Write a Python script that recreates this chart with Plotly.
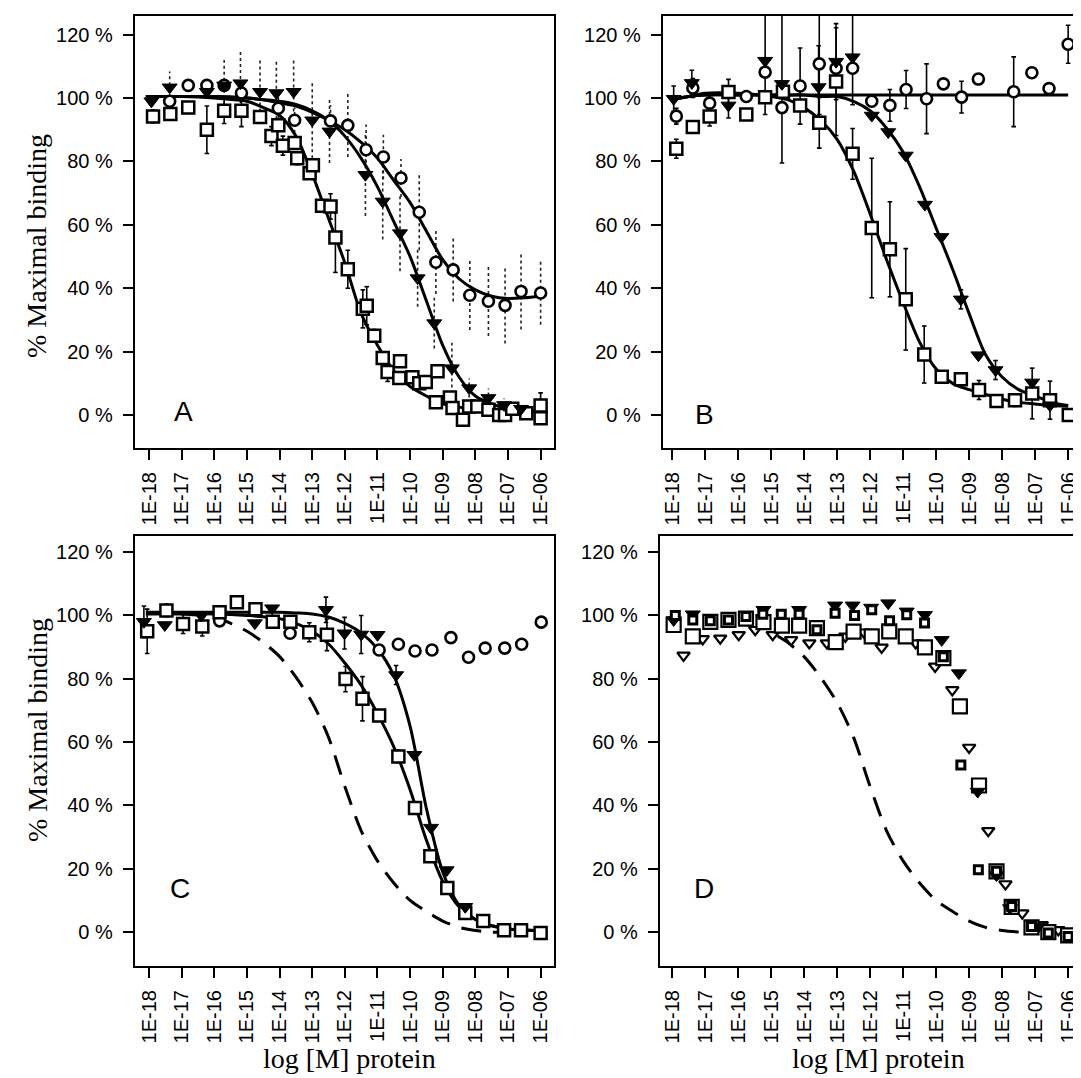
import plotly.graph_objects as go

# ---------------- tick labels ----------------
X_TICK_VALS = [-18, -17, -16, -15, -14, -13, -12, -11, -10, -9, -8, -7, -6]
X_TICK_LABELS = ["1E-18", "1E-17", "1E-16", "1E-15", "1E-14", "1E-13", "1E-12",
                 "1E-11", "1E-10", "1E-09", "1E-08", "1E-07", "1E-06"]
Y_TICK_VALS = [0, 20, 40, 60, 80, 100, 120]
Y_TICK_LABELS = ["0 %", "20 %", "40 %", "60 %", "80 %", "100 %", "120 %"]
PANEL_LABELS = ["A", "B", "C", "D"]

# ---------------- Panel A ----------------
A_sq_x = [-17.88, -17.35, -16.8, -16.23, -15.7, -15.17, -14.6, -14.25, -14.04, -13.9, -13.54, -13.46,
          -13.08, -12.98, -12.7, -12.44, -12.29, -11.91, -11.45, -11.33, -11.1, -10.84, -10.69, -10.33,
          -10.31, -9.93, -9.72, -9.52, -9.21, -9.16, -8.78, -8.7, -8.38, -8.19, -7.94, -7.6, -7.27,
          -7.09, -6.87, -6.44, -6.0, -6.0]
A_sq_y = [94.2, 95, 97, 90, 96, 96, 94, 88, 91.4, 85, 85.8, 81, 76.3, 78.8, 66, 65.8, 56, 46, 33.5,
          34.5, 25, 18, 13.6, 11.7, 17, 11.9, 10, 10.4, 4, 13.8, 5.5, 2.2, -1.5, 2.7, 2.7, 1.7, 0, 0,
          2, 0.6, 3, -1]
A_sq_err = [2, 0, 0, 7.5, 4, 5, 0, 3, 0, 3, 0, 2, 0, 0, 2, 4, 11, 6, 6, 6, 2, 0, 3, 0, 0, 0, 0, 0,
            0, 0, 0, 0, 0, 0, 0, 0, 0, 0, 0, 0, 4, 0]

A_tri_x = [-17.93, -17.37, -16.23, -15.7, -15.2, -14.6, -14.1, -13.57, -13.0, -12.47, -11.37, -10.84,
           -10.31, -9.77, -9.26, -8.72, -8.19, -7.6, -7.12, -6.6]
A_tri_y = [99, 103.4, 102, 104, 104.7, 102, 101.6, 102, 93, 89.5, 75.8, 67.4, 57.4, 43.2, 29, 14.8,
           8.5, 5.4, 3.2, 2]
A_tri_err = [0, 5, 0, 8, 10, 10, 10, 10, 12, 10, 13, 12, 12, 9, 8, 8, 3, 3, 2, 0]

A_ci_x = [-17.37, -16.8, -16.23, -15.7, -15.17, -14.04, -13.54, -12.44, -11.91, -11.35, -10.82,
          -10.28, -9.72, -9.21, -8.68, -8.17, -7.6, -7.09, -6.6, -6.0]
A_ci_y = [99, 104, 104, 104, 101.6, 96.8, 93, 92.8, 91.4, 83.7, 81.4, 74.8, 64, 48.2, 45.8, 37.8,
          35.9, 34.6, 39, 38.5]
A_ci_err = [0, 0, 0, 0, 0, 5, 4, 5, 10, 8, 7, 6, 12, 10, 10, 11, 11, 12, 12, 10]

A_fit_x = [-18.1, -17, -16, -15, -14.5, -14, -13.5, -13, -12.5, -12, -11.5, -11, -10.5, -10, -9.5,
           -9, -8.5, -8, -7.5, -7, -6.5, -6]
A_fit_sq = [100.5, 100.5, 100, 99, 97, 94.5, 88, 76, 62, 48, 32, 22, 14, 9, 6, 3.5, 2.5, 1.5, 1.2,
            1, 1, 1]
A_fit_tri = [100.5, 100.5, 100.5, 100, 99.5, 99, 98, 96, 93, 88, 81, 72, 61, 50, 36, 22, 12, 6,
             3.5, 2, 1.5, 1]
A_fit_ci = [100.5, 100.5, 100.5, 100, 99.5, 98.5, 97.5, 95.5, 93, 90, 86, 81, 74, 67, 58, 49, 43,
            39.5, 37.5, 36.8, 37, 37.5]

# ---------------- Panel B ----------------
B_ci_x = [-17.87, -17.37, -16.86, -15.75, -15.18, -14.67, -14.12, -13.54, -13.03, -12.53, -11.95,
          -11.4, -10.91, -10.29, -9.78, -9.23, -8.72, -7.65, -7.1, -6.58, -6.0]
B_ci_y = [94.3, 103.2, 98.4, 100.5, 108.2, 97, 103.8, 110.8, 109.4, 109.4, 99, 97.7, 102.7, 99.8,
          104.5, 100.3, 106, 102, 108, 103, 117]
B_ci_err = [2.5, 3, 3, 0, 0, 0, 12, 16, 0, 0, 0, 5, 6, 11, 0, 5, 0, 11, 0, 0, 6]

B_sq_x = [-17.87, -17.37, -16.86, -16.29, -15.75, -15.18, -14.64, -14.12, -13.54, -13.03, -12.53,
          -11.95, -11.4, -10.92, -10.36, -9.83, -9.25, -8.7, -8.17, -7.61, -7.09, -6.55, -5.98]
B_sq_y = [84, 90.9, 94.2, 101.9, 94.8, 100.3, 102, 97.7, 92.2, 105.2, 82.4, 59, 52.3, 36.5, 19.1,
          12.1, 11.3, 7.9, 4.4, 4.7, 6.8, 4.7, 0]
B_sq_err = [3, 0, 3, 4, 0, 0, 0, 0, 8, 17, 8, 22, 15, 16, 9, 0, 0, 3, 0, 2, 8, 6, 0]

B_tri_x = [-17.95, -17.4, -16.29, -15.18, -14.67, -13.56, -13.03, -12.53, -11.95, -11.45, -10.92,
           -10.34, -9.84, -9.25, -8.72, -8.2, -7.09, -6.55]
B_tri_y = [99.8, 104.8, 97.7, 111.8, 104.5, 103.5, 111.5, 112.9, 94.5, 89.3, 81.9, 66.4, 56.2,
           36.5, 18.9, 14.2, 10.3, 3.1]
B_tri_err = [4, 4, 4, 17, 25, 13, 12, 15, 0, 0, 0, 0, 0, 3, 0, 3, 0, 0]

B_fit_x = [-18, -17.5, -17, -16, -15, -14.5, -14, -13.5, -13, -12.5, -12, -11.5, -11, -10.5, -10,
           -9.5, -9, -8.5, -8, -7.5, -7, -6.5, -6]
B_fit_ci = [99.5, 100.5, 101, 101, 101, 101, 101, 101, 101, 101, 101, 101, 101, 101, 101, 101, 101,
            101, 101, 101, 101, 101, 101]
B_fit_sq = [99.5, 100.5, 101.5, 101.5, 100.5, 99.5, 97, 93, 87, 77, 63.5, 49, 35.5, 23, 14.5, 10, 8,
            6.5, 5, 4, 3.5, 3, 2.8]
B_fit_tri = [99.5, 100.5, 101, 101, 101, 101, 101, 100.5, 100.5, 99, 96, 90.5, 83, 72, 59, 46, 32,
             19, 12, 8, 6, 4, 3]

# ---------------- Panel C ----------------
C_sq_x = [-18.06, -17.47, -16.96, -16.37, -15.84, -15.31, -14.74, -14.21, -13.67, -13.09, -12.55,
          -11.98, -11.46, -10.95, -10.36, -9.85, -9.38, -8.86, -8.31, -7.76, -7.12, -6.6, -6.0]
C_sq_y = [95, 101.6, 97.3, 96.5, 101, 104.2, 102, 98, 98, 94.7, 93.9, 79.9, 73.7, 68.4, 55.5, 39.2,
          24, 13.9, 6, 3.5, 0.6, 0.6, -0.3]
C_sq_err = [7, 2, 3, 3, 0, 0, 0, 0, 0, 3, 5, 4, 7, 0, 2, 0, 0, 0, 0, 0, 0, 0, 0]

C_tri_x = [-18.16, -17.52, -16.4, -14.76, -14.23, -12.58, -12.01, -11.5, -11.0, -10.43, -9.87,
           -9.36, -8.88, -8.31]
C_tri_y = [98, 97, 100, 97.6, 102.3, 101.8, 94.4, 94, 93.9, 81.2, 56, 33, 19.6, 8]
C_tri_err = [5, 0, 0, 0, 0, 4, 5, 6, 0, 3, 0, 0, 0, 0]

C_ci_x = [-15.84, -13.68, -10.95, -10.36, -9.85, -9.33, -8.75, -8.21, -7.7, -7.1, -6.58, -5.98]
C_ci_y = [98.3, 94.4, 89.1, 90.9, 88.8, 89.1, 93, 86.8, 89.7, 89.7, 90.9, 97.9]

C_fit_x = [-18.1, -17, -16, -15, -14, -13.5, -13, -12.5, -12, -11.5, -11, -10.5, -10, -9.5, -9,
           -8.5, -8, -7.5, -7, -6]
C_fit_sq = [100.5, 100.5, 100.5, 100, 99, 97.5, 95, 91, 85, 78, 69, 58.5, 45, 29, 16, 8, 4, 2, 1,
            0.5]
C_fit_tri = [101, 101, 101, 101, 101, 100.8, 100.5, 99.5, 97.5, 94.5, 89.5, 81, 65, 39, 19, 8.5, 4,
             2, 1, 0.5]

C_dash_x = [-17.0, -16, -15.5, -15, -14.5, -14, -13.5, -13, -12.5, -12, -11.5, -11, -10.5, -10,
            -9.5, -9, -8.5, -8, -7.5, -7.2]
C_dash_y = [100.5, 99.5, 97.5, 95, 91.5, 87, 80.5, 72.5, 61.5, 46, 32, 22.5, 15.5, 10, 6.5, 3.5,
            1.5, 0.5, 0, 0]

# ---------------- Panel D ----------------
D_small_x = [-17.9, -17.37, -16.84, -16.29, -15.76, -15.25, -14.69, -14.15, -13.61, -13.06, -12.47,
             -11.95, -11.41, -10.89, -10.35, -9.78, -9.25, -8.72, -8.17, -7.71, -7.11, -6.6, -6.0]
D_small_y = [100, 98.6, 98.3, 98.6, 99.7, 100.4, 100.4, 100.4, 95.5, 100.7, 100, 101.8, 98.3, 100.2,
             97.6, 87, 52.8, 19.7, 19.2, 8.1, 1.8, -0.3, -1.4]

D_tri_x = [-17.95, -17.37, -15.23, -14.15, -13.06, -12.53, -11.97, -11.45, -10.89, -10.34, -9.83,
           -9.31, -8.74, -8.17, -7.76, -6.9]
D_tri_y = [98.6, 100.4, 101.8, 101.8, 103.2, 103.2, 102.5, 103.9, 101.3, 100.2, 92.3, 81.8, 44.4,
           18, 7.6, 1.8]

D_big_x = [-17.95, -17.37, -16.84, -16.29, -15.76, -15.23, -14.67, -14.15, -13.61, -13.04, -12.5,
           -11.95, -11.42, -10.92, -10.34, -9.78, -9.28, -8.7, -8.17, -7.71, -7.11, -6.6, -6.0]
D_big_y = [97, 93.4, 98, 98.6, 99, 97.9, 96.8, 96.8, 96, 91.6, 94.9, 93.4, 95, 93.4, 89.9, 86.5,
           71.3, 46.3, 19.2, 8, 1.5, 0, -1]

D_otri_x = [-17.65, -17.07, -16.54, -15.98, -15.48, -14.95, -14.39, -13.84, -13.31, -12.75, -12.19,
            -11.65, -10.62, -10.03, -9.51, -9.0, -8.42, -7.9, -7.39, -6.8, -6.3, -5.72]
D_otri_y = [87.4, 92.6, 92.8, 93.9, 95.5, 93.9, 92.3, 91.3, 91.3, 93.4, 94.7, 89.9, 91.3, 83.9,
            76.5, 58.3, 32, 15.2, 6, 2.3, 0.7, 0.2]

D_dash_x = [-14.8, -14.5, -14, -13.5, -13, -12.5, -12, -11.5, -11, -10.5, -10, -9.5, -9, -8.5, -8,
            -7.5]
D_dash_y = [93.5, 91.5, 87, 80.5, 72.5, 61.5, 46, 32, 22.5, 15.5, 10, 6.5, 3.5, 1.5, 0.5, 0]

# ---------------- figure ----------------
W, H = 1081, 1078
fig = go.Figure()

AX = {"A": ("x", "y"), "B": ("x2", "y2"), "C": ("x3", "y3"), "D": ("x4", "y4")}


def err_segments(xs, ys, es, cap):
    sx, sy = [], []
    for x, y, e in zip(xs, ys, es):
        if e <= 0:
            continue
        sx += [x, x, None]
        sy += [y - e, y + e, None]
        if cap > 0:
            for yy in (y - e, y + e):
                sx += [x - cap, x + cap, None]
                sy += [yy, yy, None]
    return sx, sy


def add_err(panel, xs, ys, es, dotted=False, cap=0.07):
    xa, ya = AX[panel]
    sx, sy = err_segments(xs, ys, es, 0 if dotted else cap)
    fig.add_trace(go.Scatter(x=sx, y=sy, mode="lines", xaxis=xa, yaxis=ya, hoverinfo="skip",
                             line=dict(color="#222" if dotted else "black",
                                       width=1.6 if dotted else 1.6,
                                       dash="dot" if dotted else "solid")))


def add_curve(panel, xs, ys, dashed=False):
    xa, ya = AX[panel]
    fig.add_trace(go.Scatter(x=xs, y=ys, mode="lines", xaxis=xa, yaxis=ya, hoverinfo="skip",
                             line=dict(color="black", width=3, shape="spline", smoothing=0.8,
                                       dash="20px,12px" if dashed else "solid")))


def add_pts(panel, xs, ys, kind):
    xa, ya = AX[panel]
    styles = {
        "sq": dict(symbol="square", size=12, color="white", line=dict(color="black", width=2.5)),
        "ci": dict(symbol="circle", size=11, color="white", line=dict(color="black", width=2.6)),
        "tri": dict(symbol="triangle-down", size=13, color="black", line=dict(color="black", width=1)),
        "small": dict(symbol="square", size=8, color="white", line=dict(color="black", width=3)),
        "big": dict(symbol="square", size=14, color="white", line=dict(color="black", width=2.2)),
        "otri": dict(symbol="triangle-down", size=11, color="white", line=dict(color="black", width=2.2)),
    }
    fig.add_trace(go.Scatter(x=xs, y=ys, mode="markers", xaxis=xa, yaxis=ya, hoverinfo="skip",
                             marker=styles[kind]))


# Panel A
add_err("A", A_tri_x, A_tri_y, A_tri_err, dotted=True)
add_err("A", A_ci_x, A_ci_y, A_ci_err, dotted=True)
add_err("A", A_sq_x, A_sq_y, A_sq_err)
add_curve("A", A_fit_x, A_fit_sq)
add_curve("A", A_fit_x, A_fit_tri)
add_curve("A", A_fit_x, A_fit_ci)
add_pts("A", A_ci_x, A_ci_y, "ci")
add_pts("A", A_sq_x, A_sq_y, "sq")
add_pts("A", A_tri_x, A_tri_y, "tri")

# Panel B
add_err("B", B_ci_x, B_ci_y, B_ci_err)
add_err("B", B_sq_x, B_sq_y, B_sq_err)
add_err("B", B_tri_x, B_tri_y, B_tri_err)
add_curve("B", B_fit_x, B_fit_ci)
add_curve("B", B_fit_x, B_fit_sq)
add_curve("B", B_fit_x, B_fit_tri)
add_pts("B", B_ci_x, B_ci_y, "ci")
add_pts("B", B_sq_x, B_sq_y, "sq")
add_pts("B", B_tri_x, B_tri_y, "tri")

# Panel C
add_err("C", C_sq_x, C_sq_y, C_sq_err)
add_err("C", C_tri_x, C_tri_y, C_tri_err)
add_curve("C", C_dash_x, C_dash_y, dashed=True)
add_curve("C", C_fit_x, C_fit_sq)
add_curve("C", C_fit_x, C_fit_tri)
add_pts("C", C_ci_x, C_ci_y, "ci")
add_pts("C", C_sq_x, C_sq_y, "sq")
add_pts("C", C_tri_x, C_tri_y, "tri")

# Panel D
add_curve("D", D_dash_x, D_dash_y, dashed=True)
add_pts("D", D_otri_x, D_otri_y, "otri")
add_pts("D", D_big_x, D_big_y, "big")
add_pts("D", D_tri_x, D_tri_y, "tri")
add_pts("D", D_small_x, D_small_y, "small")

# ---------------- axes ----------------
def px_dom_x(a, b):
    return [a / W, b / W]


def px_dom_y(top, bottom):
    return [1 - bottom / H, 1 - top / H]


tick_font = dict(family="Liberation Sans, Arial, sans-serif", size=20, color="black")


def xaxis(dom, rng, anchor):
    return dict(domain=dom, range=rng, anchor=anchor, tickmode="array", tickvals=X_TICK_VALS,
                ticktext=X_TICK_LABELS, tickangle=-90, ticks="outside", ticklen=10, tickwidth=1.6,
                tickcolor="black", showline=True, linecolor="black", linewidth=2, mirror=True,
                showgrid=False, zeroline=False, tickfont=tick_font, ticklabelstandoff=4)


def yaxis(dom, rng, anchor):
    return dict(domain=dom, range=rng, anchor=anchor, tickmode="array", tickvals=Y_TICK_VALS,
                ticktext=Y_TICK_LABELS, ticks="outside", ticklen=10, tickwidth=1.6,
                tickcolor="black", showline=True, linecolor="black", linewidth=2, mirror=True,
                showgrid=False, zeroline=False, tickfont=tick_font, ticklabelstandoff=6)


fig.update_layout(
    xaxis=xaxis(px_dom_x(125, 545), [-18.44, -5.59], "y"),
    yaxis=yaxis(px_dom_y(8, 440), [-10.4, 125.9], "x"),
    xaxis2=xaxis(px_dom_x(654, 1075), [-18.28, -5.55], "y2"),
    yaxis2=yaxis(px_dom_y(8, 440), [-10.4, 125.9], "x2"),
    xaxis3=xaxis(px_dom_x(125, 545), [-18.44, -5.59], "y3"),
    yaxis3=yaxis(px_dom_y(528, 958), [-10.7, 125.1], "x3"),
    xaxis4=xaxis(px_dom_x(651, 1075), [-18.37, -5.55], "y4"),
    yaxis4=yaxis(px_dom_y(528, 958), [-10.7, 125.1], "x4"),
)

letter_font = dict(family="Liberation Sans, Arial, sans-serif", size=28, color="black")
letter_pos = [("x", "y", 0.117, 0.085), ("x2", "y2", 0.10, 0.077),
              ("x3", "y3", 0.107, 0.18), ("x4", "y4", 0.104, 0.18)]
annotations = []
for lab, (xa, ya, fx, fy) in zip(PANEL_LABELS, letter_pos):
    annotations.append(dict(text=lab, xref=xa + " domain", yref=ya + " domain", x=fx, y=fy,
                            showarrow=False, font=letter_font, xanchor="center", yanchor="middle"))

title_font = dict(family="Liberation Serif, Times New Roman, serif", size=28, color="black")
for yc in (238, 722):
    annotations.append(dict(text="% Maximal binding", xref="paper", yref="paper", x=27 / W,
                            y=1 - yc / H, textangle=-90, showarrow=False, font=title_font,
                            xanchor="center", yanchor="middle"))
for xc in (340, 870):
    annotations.append(dict(text="log [M] protein", xref="paper", yref="paper", x=xc / W,
                            y=1 - 1050 / H, showarrow=False, font=title_font,
                            xanchor="center", yanchor="middle"))

fig.update_layout(width=W, height=H, margin=dict(l=0, r=0, t=0, b=0), paper_bgcolor="white",
                  plot_bgcolor="white", showlegend=False, annotations=annotations)

fig.write_html("out.html")
